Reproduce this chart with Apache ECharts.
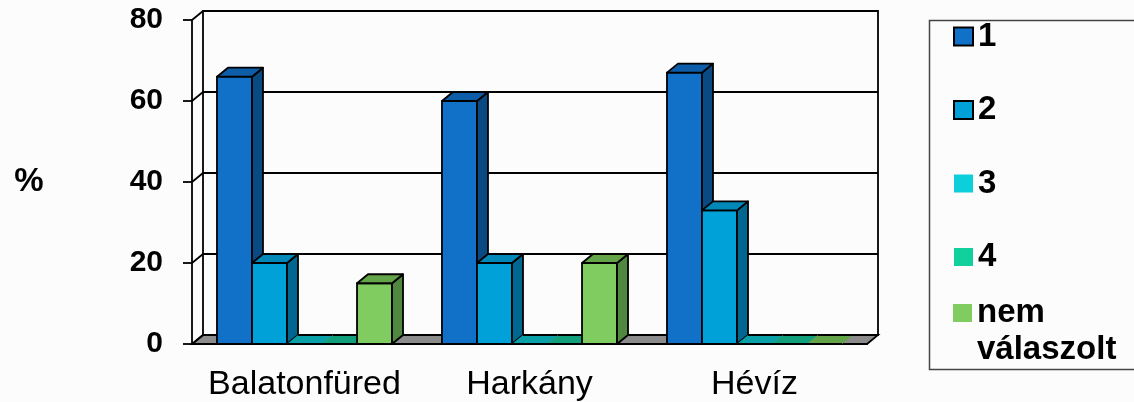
<!DOCTYPE html>
<html><head><meta charset="utf-8">
<script src="https://cdn.jsdelivr.net/npm/echarts@6/dist/echarts.min.js"></script>
<style>html,body{margin:0;padding:0;background:#fcfcfc}#c{width:1134px;height:402px}</style>
</head><body><div id="c"></div>
<script>
const categories = ['Balatonfüred', 'Harkány', 'Hévíz'];
const seriesNames = ['1', '2', '3', '4', 'nem válaszolt'];
const s1 = [66, 60, 67];
const s2 = [20, 20, 33];
const s3 = [0, 0, 0];
const s4 = [0, 0, 0];
const sNem = [15, 20, 0];
const yTicks = [0, 20, 40, 60, 80];
const seriesValues = [s1, s2, s3, s4, sNem];

const palette = [
  { front: '#1170C8', top: '#0D5DA8', side: '#0A4A82' },
  { front: '#00A0D8', top: '#0088B8', side: '#006890' },
  { front: '#0CCFDC', top: '#0AA0A8', side: '#088890' },
  { front: '#10D09C', top: '#12A07C', side: '#0C8868' },
  { front: '#80CC60', top: '#64A448', side: '#508840' }
];
const DX = 11, DY = -9;
const FONT = "'Liberation Sans', Arial, sans-serif";
const LW = 1.8;

function bandInfo(api) {
  return api.size([1, 0])[0];
}

function barRenderer(si) {
  return function (params, api) {
    const cat = api.value(0), val = api.value(1);
    const p = api.coord([cat, val]);
    const b = api.coord([cat, 0]);
    const band = bandInfo(api);
    const gap = band * 0.111;
    const w = (band - 2 * gap) / 5;
    const x0 = p[0] - band / 2 + gap + si * w;
    const x1 = x0 + w;
    const yt = p[1], yb = b[1];
    const c = palette[si];
    const st = { stroke: '#000', lineWidth: LW, lineJoin: 'round' };
    const children = [];
    if (yb - yt > 0.5) {
      children.push({ type: 'rect', shape: { x: x0, y: yt, width: w, height: yb - yt }, style: Object.assign({ fill: c.front }, st) });
      children.push({ type: 'polygon', shape: { points: [[x1, yt], [x1 + DX, yt + DY], [x1 + DX, yb + DY], [x1, yb]] }, style: Object.assign({ fill: c.side }, st) });
      children.push({ type: 'polygon', shape: { points: [[x0, yt], [x1, yt], [x1 + DX, yt + DY], [x0 + DX, yt + DY]] }, style: Object.assign({ fill: c.top }, st) });
    } else {
      children.push({ type: 'polygon', shape: { points: [[x0, yt], [x1, yt], [x1 + DX, yt + DY], [x0 + DX, yt + DY]] }, style: { fill: c.top, stroke: null } });
      children.push({ type: 'line', shape: { x1: x0, y1: yt, x2: x1, y2: yt }, style: { stroke: '#000', lineWidth: LW } });
      children.push({ type: 'line', shape: { x1: x0 + DX, y1: yt + DY, x2: x1 + DX, y2: yt + DY }, style: { stroke: '#000', lineWidth: LW } });
    }
    return { type: 'group', children: children };
  };
}

const barSeries = seriesValues.map(function (vals, si) {
  return {
    name: seriesNames[si],
    type: 'custom',
    xAxisIndex: 0, yAxisIndex: 0,
    itemStyle: { color: palette[si].front },
    renderItem: barRenderer(si),
    encode: { x: 0, y: 1 },
    data: vals.map(function (v, i) { return [i, v]; }),
    z: 3
  };
});

const floorSeries = {
  type: 'custom', xAxisIndex: 0, yAxisIndex: 0, silent: true, z: 2,
  renderItem: function (params, api) {
    const band = bandInfo(api);
    const a = api.coord([0, 0]);
    const z = api.coord([categories.length - 1, 0]);
    const L = a[0] - band / 2, R = z[0] + band / 2, y = a[1];
    return { type: 'polygon', shape: { points: [[L, y], [R, y], [R + DX, y + DY], [L + DX, y + DY]] },
      style: { fill: '#8c8c8c', stroke: '#000', lineWidth: LW } };
  },
  data: [[0, 0]]
};

const sideSeries = {
  type: 'custom', xAxisIndex: 0, yAxisIndex: 0, silent: true, z: 2,
  renderItem: function (params, api) {
    const band = bandInfo(api);
    const p = api.coord([0, api.value(1)]);
    const L = p[0] - band / 2;
    return { type: 'line', shape: { x1: L, y1: p[1], x2: L + DX, y2: p[1] + DY },
      style: { stroke: '#000', lineWidth: LW } };
  },
  data: yTicks.map(function (v) { return [0, v]; })
};

const G = { left: 192, right: 267, top: 20, bottom: 58 };

const legendItemStyles = [
  { borderColor: '#000', borderWidth: 2 },
  { borderColor: '#000', borderWidth: 2 },
  { borderWidth: 0 },
  { borderWidth: 0 },
  { borderWidth: 0 }
];

const chart = echarts.init(document.getElementById('c'));
chart.setOption({
  backgroundColor: '#fcfcfc',
  animation: false,
  textStyle: { fontFamily: FONT },
  grid: [
    { left: G.left, right: G.right, top: G.top, bottom: G.bottom, show: false },
    { left: G.left + DX, right: G.right - DX, top: G.top + DY, bottom: G.bottom - DY,
      show: true, borderColor: '#000', borderWidth: LW, backgroundColor: 'rgba(0,0,0,0)' }
  ],
  xAxis: [
    { type: 'category', gridIndex: 0, data: categories,
      axisLine: { lineStyle: { color: '#000', width: LW } },
      axisTick: { length: 10, lineStyle: { color: '#000', width: LW } },
      axisLabel: { color: '#000', fontSize: 34, margin: 24, interval: 0, fontFamily: FONT },
      splitLine: { show: false } },
    { type: 'category', gridIndex: 1, data: categories, show: false }
  ],
  yAxis: [
    { type: 'value', gridIndex: 0, min: 0, max: 80, interval: 20,
      name: '%', nameLocation: 'middle', nameRotate: 0, nameGap: 163,
      nameTextStyle: { fontSize: 33, fontWeight: 'bold', color: '#000', align: 'center', verticalAlign: 'middle', fontFamily: FONT, padding: [0, 0, 10, 0] },
      axisLine: { show: true, lineStyle: { color: '#000', width: LW } },
      axisTick: { show: true, length: 9, lineStyle: { color: '#000', width: LW } },
      axisLabel: { color: '#000', fontSize: 30, fontWeight: 'bold', margin: 29, fontFamily: FONT, padding: [4, 0, 0, 0] },
      splitLine: { show: false } },
    { type: 'value', gridIndex: 1, min: 0, max: 80, interval: 20,
      axisLine: { show: false }, axisTick: { show: false }, axisLabel: { show: false },
      splitLine: { show: true, lineStyle: { color: '#000', width: LW } } }
  ],
  legend: [
    { orient: 'vertical', left: 953, top: 20, padding: 0, itemGap: 40.5,
      itemWidth: 19, itemHeight: 18, icon: 'rect', selectedMode: false,
      textStyle: { fontSize: 33, fontWeight: 'bold', color: '#000', lineHeight: 30, fontFamily: FONT },
      data: seriesNames.slice(0, 4).map(function (n, i) {
        return { name: n, itemStyle: Object.assign({ color: palette[i].front }, legendItemStyles[i]) };
      }) },
    { orient: 'vertical', left: 953, top: 294.5, padding: 0,
      itemWidth: 19, itemHeight: 55, selectedMode: false,
      icon: 'path://M0,0h19v18h-19zM0,55h0.01',
      formatter: function (n) { return n.replace(' ', '\n'); },
      textStyle: { fontSize: 33, fontWeight: 'bold', color: '#000', lineHeight: 37, fontFamily: FONT },
      data: [{ name: seriesNames[4], itemStyle: Object.assign({ color: palette[4].front }, legendItemStyles[4]) }] }
  ],
  graphic: [
    { type: 'rect', left: 927, top: 18, shape: { x: 0, y: 0, width: 230, height: 349 },
      style: { fill: null, stroke: '#444', lineWidth: 1.5 }, z: -1 }
  ],
  series: [floorSeries, sideSeries].concat(barSeries)
});
</script>
</body></html>
